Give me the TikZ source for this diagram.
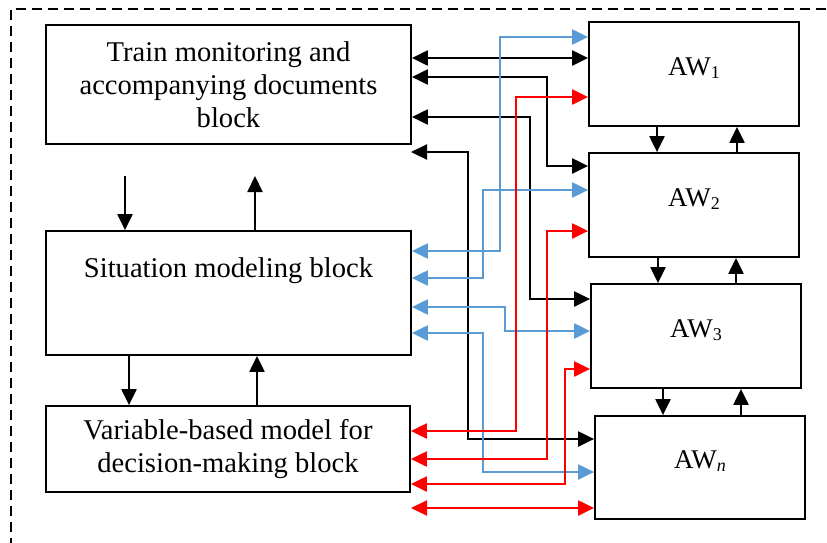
\documentclass[tikz,border=0pt]{standalone}
\usepackage{fontspec}
\setmainfont{Liberation Serif}
\usetikzlibrary{arrows.meta}
\definecolor{myblue}{RGB}{91,155,213}
\definecolor{myred}{RGB}{255,0,0}
\newcommand\awsub[1]{\raisebox{-3pt}{\fontsize{18}{18}\selectfont #1}}
\begin{document}
\begin{tikzpicture}[x=1pt,y=-1pt,
  blk/.style={draw=black, line width=1.8pt, inner sep=0pt, align=center,
    font=\fontsize{28.6}{33}\selectfont},
  txt/.style={inner sep=0pt, align=center, font=\fontsize{28.6}{33}\selectfont},
  aw/.style={draw=black, line width=1.8pt, minimum width=210pt, minimum height=104pt, inner sep=0pt},
  awtxt/.style={inner sep=0pt, font=\fontsize{27}{30}\selectfont},
  tip/.tip={Triangle[length=16pt,width=15pt]},
  karr/.style={draw=black, line width=2.2pt, -tip},
  kcon/.style={draw=black, line width=2.2pt, tip-tip},
  bcon/.style={draw=myblue, line width=2.2pt, tip-tip},
  rcon/.style={draw=myred, line width=2.2pt, tip-tip},
  frame/.style={draw=black, line width=1.3pt, dash pattern=on 10pt off 6pt}
]
\useasboundingbox (0,0) rectangle (827,542);
\draw[frame] (11,548) -- (11,9) -- (835,9);

% left blocks
\node[blk, minimum width=365pt, minimum height=119pt] (T) at (228.5,84.5)
  {Train monitoring and\\accompanying documents\\block};
\node[blk, minimum width=365pt, minimum height=124pt] (S) at (228.5,293) {};
\node[txt] (Stxt) at ([yshift=22pt]S.center) {Situation modeling block};
\node[blk, minimum width=364pt, minimum height=86pt] (V) at (228,449)
  {Variable-based model for\\decision-making block};

% AW blocks
\node[aw] (A1) at (694,74) {};
\node[aw] (A2) at (694,205) {};
\node[aw] (A3) at (696,336) {};
\node[aw, minimum height=103pt] (An) at (700,467.5) {};
\node[awtxt] at ([yshift=6pt]A1.center) {AW\awsub{1}};
\node[awtxt] at ([yshift=6pt]A2.center) {AW\awsub{2}};
\node[awtxt] at ([yshift=6pt]A3.center) {AW\awsub{3}};
\node[awtxt] at ([yshift=6pt]An.center) {AW\awsub{\itshape n}};

% vertical arrows on the left
\coordinate (d1) at (125,176);
\coordinate (u1) at (255,176);
\draw[karr] (d1) -- (d1 |- S.north);
\draw[karr] (u1 |- S.north) -- (u1);
\draw[karr] (129,0 |- S.south) -- (129,0 |- V.north);
\draw[karr] (257,0 |- V.north) -- (257,0 |- S.south);

% vertical arrows between AW blocks
\draw[karr] (657,0 |- A1.south) -- (657,0 |- A2.north);
\draw[karr] (737,0 |- A2.north) -- (737,0 |- A1.south);
\draw[karr] (658,0 |- A2.south) -- (658,0 |- A3.north);
\draw[karr] (736,0 |- A3.north) -- (736,0 |- A2.south);
\draw[karr] (663,0 |- A3.south) -- (663,0 |- An.north);
\draw[karr] (741,0 |- An.north) -- (741,0 |- A3.south);

% black connectors
\draw[kcon] (T.east |- 0,58) -- (A1.west |- 0,58);
\draw[kcon] (T.east |- 0,77) -- (547,77) -- (547,166) -- (A2.west |- 0,166);
\draw[kcon] (T.east |- 0,117) -- (530,117) -- (530,299) -- (A3.west |- 0,299);
\coordinate (k4) at (411,152);
\draw[kcon] (k4) -- (468,152) -- (468,439) -- (An.west |- 0,439);

% blue connectors
\draw[bcon] (S.east |- 0,251) -- (500,251) -- (500,37) -- (A1.west |- 0,37);
\draw[bcon] (S.east |- 0,278) -- (483,278) -- (483,190) -- (A2.west |- 0,190);
\draw[bcon] (S.east |- 0,307) -- (505,307) -- (505,331) -- (A3.west |- 0,331);
\draw[bcon] (S.east |- 0,333) -- (483,333) -- (483,472) -- (An.west |- 0,472);

% red connectors
\draw[rcon] (V.east |- 0,431) -- (516,431) -- (516,97) -- (A1.west |- 0,97);
\draw[rcon] (V.east |- 0,459) -- (547,459) -- (547,231) -- (A2.west |- 0,231);
\draw[rcon] (V.east |- 0,484) -- (565,484) -- (565,369) -- (A3.west |- 0,369);
\coordinate (r4) at (411,508);
\draw[rcon] (r4) -- (An.west |- 0,508);
\end{tikzpicture}
\end{document}
